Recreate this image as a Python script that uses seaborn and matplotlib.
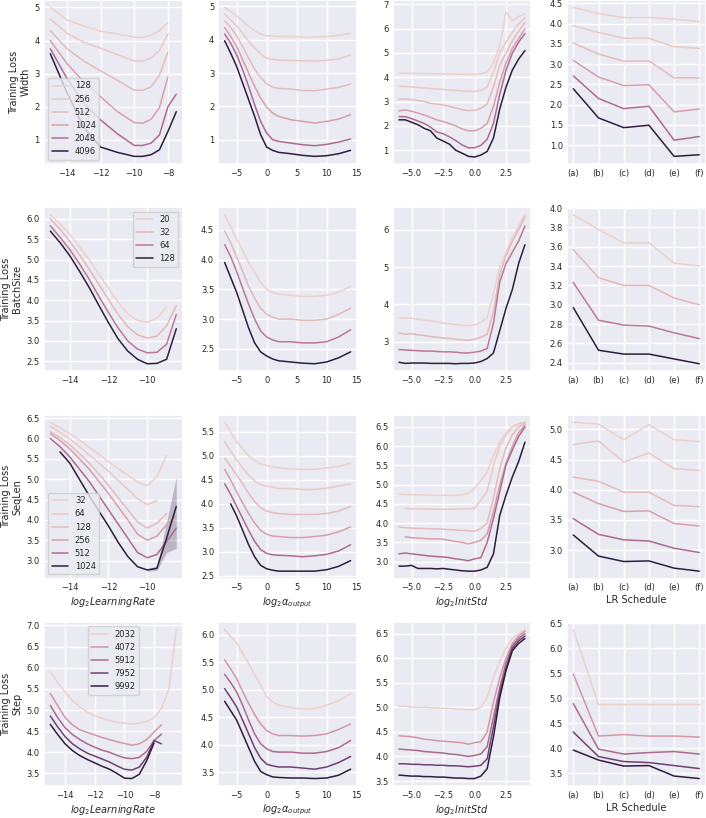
import numpy as np
import pandas as pd
import matplotlib
matplotlib.use("Agg")
import matplotlib.pyplot as plt
from matplotlib.ticker import MultipleLocator
import seaborn as sns

# -----------------------------
# x grids
# -----------------------------
lr_width = [-15, -14, -13, -12, -11, -10, -9.5, -9, -8.5, -8, -7.5]
lr_fine = [-15, -14.5, -14, -13.5, -13, -12.5, -12, -11.5, -11, -10.5, -10, -9.5, -9, -8.5]
lr_step = lr_fine + [-8, -7.5, -7, -6.5]
alpha_x = [-7, -6, -5, -4, -3, -2, -1, 0, 1, 2, 4, 6, 8, 10, 12, 14]
std_x = [-6, -5.5, -5, -4.5, -4, -3.5, -3, -2.5, -2, -1.5, -1, -0.5,
         0, 0.5, 1, 1.5, 2, 2.5, 3, 3.5, 4]
schedules = ["(a)", "(b)", "(c)", "(d)", "(e)", "(f)"]

# -----------------------------
# Width
# -----------------------------
width_lr = {
    128: [5.0, 4.62, 4.44, 4.28, 4.2, 4.1, 4.1, 4.16, 4.3, 4.54, None],
    256: [4.65, 4.22, 3.95, 3.77, 3.57, 3.38, 3.38, 3.47, 3.7, 4.2, None],
    512: [4.3, 3.75, 3.38, 3.08, 2.8, 2.5, 2.5, 2.6, 2.95, 3.65, None],
    1024: [4.0, 3.3, 2.75, 2.3, 1.85, 1.52, 1.5, 1.62, 1.98, 2.9, None],
    2048: [3.75, 2.85, 2.1, 1.6, 1.18, 0.83, 0.83, 0.9, 1.15, 2.0, 2.38],
    4096: [3.6, 2.42, 1.37, 0.78, 0.62, 0.5, 0.5, 0.55, 0.7, 1.25, 1.85],
}
width_alpha = {
    128: [4.97, 4.85, 4.72, 4.55, 4.4, 4.27, 4.17, 4.12, 4.11, 4.1, 4.1, 4.08, 4.08, 4.1, 4.13, 4.2],
    256: [4.77, 4.6, 4.42, 4.2, 3.95, 3.75, 3.58, 3.45, 3.41, 3.39, 3.38, 3.37, 3.36, 3.38, 3.42, 3.55],
    512: [4.57, 4.37, 4.12, 3.8, 3.45, 3.12, 2.87, 2.68, 2.58, 2.54, 2.52, 2.48, 2.47, 2.52, 2.57, 2.67],
    1024: [4.37, 4.1, 3.8, 3.4, 3.0, 2.6, 2.25, 1.98, 1.8, 1.7, 1.6, 1.55, 1.5, 1.55, 1.62, 1.75],
    2048: [4.17, 3.9, 3.55, 3.1, 2.6, 2.05, 1.55, 1.2, 1.0, 0.95, 0.9, 0.85, 0.82, 0.86, 0.93, 1.02],
    4096: [3.97, 3.6, 3.2, 2.7, 2.2, 1.7, 1.15, 0.78, 0.68, 0.62, 0.58, 0.53, 0.5, 0.52, 0.58, 0.68],
}
width_std = {
    128: [4.17, 4.17, 4.16, 4.16, 4.15, 4.15, 4.14, 4.14, 4.13, 4.13, 4.12, 4.12, 4.12, 4.15, 4.22, 4.6, 5.3, 6.68, 6.33, 6.5, 6.6],
    256: [3.63, 3.62, 3.6, 3.58, 3.56, 3.54, 3.52, 3.5, 3.48, 3.46, 3.44, 3.42, 3.42, 3.46, 3.6, 4.2, 5.0, 5.45, 5.85, 6.2, 6.45],
    512: [3.1, 3.1, 3.08, 3.04, 3.0, 2.93, 2.9, 2.86, 2.8, 2.74, 2.67, 2.63, 2.64, 2.72, 2.9, 3.6, 4.5, 5.0, 5.5, 5.9, 6.25],
    1024: [2.62, 2.66, 2.6, 2.53, 2.45, 2.35, 2.25, 2.18, 2.1, 2.0, 1.88, 1.8, 1.8, 1.9, 2.1, 2.8, 3.8, 4.6, 5.2, 5.6, 6.0],
    2048: [2.38, 2.38, 2.3, 2.2, 2.1, 1.95, 1.75, 1.68, 1.55, 1.4, 1.22, 1.1, 1.1, 1.2, 1.45, 2.1, 3.3, 4.3, 5.0, 5.45, 5.8],
    4096: [2.25, 2.25, 2.15, 2.05, 1.9, 1.8, 1.5, 1.38, 1.25, 1.0, 0.88, 0.75, 0.72, 0.8, 0.95, 1.5, 2.7, 3.6, 4.3, 4.75, 5.1],
}
width_sched = {
    128: [4.40, 4.25, 4.15, 4.15, 4.11, 4.05],
    256: [3.95, 3.78, 3.64, 3.64, 3.43, 3.39],
    512: [3.52, 3.25, 3.07, 3.08, 2.66, 2.66],
    1024: [3.09, 2.68, 2.47, 2.49, 1.82, 1.89],
    2048: [2.71, 2.15, 1.90, 1.96, 1.12, 1.21],
    4096: [2.39, 1.67, 1.43, 1.49, 0.72, 0.76],
}

# -----------------------------
# BatchSize
# -----------------------------
batch_lr = {
    20: [6.1, 5.88, 5.62, 5.32, 5.0, 4.65, 4.3, 3.95, 3.67, 3.5, 3.46, 3.56, 3.84, None],
    32: [6.0, 5.75, 5.45, 5.12, 4.77, 4.4, 4.02, 3.65, 3.35, 3.15, 3.07, 3.12, 3.37, 3.87],
    64: [5.83, 5.55, 5.25, 4.9, 4.52, 4.1, 3.7, 3.32, 3.0, 2.8, 2.71, 2.72, 2.92, 3.65],
    128: [5.7, 5.42, 5.1, 4.72, 4.32, 3.88, 3.45, 3.05, 2.75, 2.55, 2.44, 2.45, 2.55, 3.3],
}
batch_alpha = {
    20: [4.75, 4.55, 4.35, 4.15, 3.95, 3.78, 3.62, 3.5, 3.45, 3.42, 3.4, 3.38, 3.38, 3.4, 3.45, 3.55],
    32: [4.48, 4.28, 4.05, 3.8, 3.55, 3.35, 3.18, 3.08, 3.03, 3.0, 3.0, 2.98, 2.98, 3.0, 3.08, 3.18],
    64: [4.25, 4.05, 3.8, 3.52, 3.25, 3.0, 2.8, 2.7, 2.65, 2.62, 2.62, 2.6, 2.6, 2.62, 2.7, 2.82],
    128: [3.95, 3.7, 3.45, 3.15, 2.85, 2.6, 2.45, 2.38, 2.33, 2.3, 2.28, 2.26, 2.25, 2.28, 2.35, 2.45],
}
batch_std = {
    20: [3.64, 3.63, 3.63, 3.6, 3.58, 3.56, 3.53, 3.5, 3.48, 3.46, 3.44, 3.43, 3.45, 3.52, 3.64, 4.3, 5.0, 5.4, 5.8, 6.1, 6.4],
    32: [3.23, 3.2, 3.22, 3.18, 3.17, 3.14, 3.12, 3.1, 3.09, 3.07, 3.05, 3.04, 3.07, 3.12, 3.2, 3.8, 4.8, 5.3, 5.7, 6.0, 6.35],
    64: [2.79, 2.78, 2.77, 2.76, 2.75, 2.75, 2.74, 2.73, 2.73, 2.72, 2.7, 2.7, 2.72, 2.75, 2.82, 3.5, 4.6, 5.1, 5.4, 5.7, 6.1],
    128: [2.45, 2.42, 2.43, 2.43, 2.43, 2.42, 2.42, 2.42, 2.42, 2.41, 2.42, 2.42, 2.43, 2.47, 2.55, 2.7, 3.3, 3.9, 4.4, 5.1, 5.6],
}
batch_sched = {
    20: [3.93, 3.78, 3.64, 3.64, 3.43, 3.40],
    32: [3.57, 3.28, 3.20, 3.20, 3.07, 3.00],
    64: [3.23, 2.84, 2.79, 2.78, 2.71, 2.65],
    128: [2.97, 2.53, 2.49, 2.49, 2.44, 2.39],
}

# -----------------------------
# SeqLen
# -----------------------------
seq_lr = {
    32: [6.4, 6.26, 6.12, 5.96, 5.79, 5.62, 5.43, 5.26, 5.1, 4.93, 4.84, 5.06, 5.59, None],
    64: [6.3, 6.15, 5.99, 5.8, 5.6, 5.4, 5.2, 4.97, 4.75, 4.52, 4.38, 4.47, None, None],
    128: [6.17, 6.02, 5.85, 5.63, 5.4, 5.13, 4.85, 4.55, 4.25, 3.95, 3.8, 3.92, 4.16, None],
    256: [6.12, 5.95, 5.75, 5.5, 5.25, 4.95, 4.65, 4.32, 4.0, 3.65, 3.5, 3.6, 3.88, 4.1],
    512: [6.0, 5.8, 5.55, 5.25, 4.95, 4.6, 4.25, 3.9, 3.55, 3.2, 3.07, 3.15, 3.47, 3.8],
    1024: [None, 5.67, 5.4, 5.0, 4.6, 4.22, 3.85, 3.45, 3.1, 2.85, 2.77, 2.81, 3.55, 4.33],
}
seq_band_x = [-10, -9.5, -9, -8.5]
seq_band_lo = [2.74, 2.76, 3.2, 3.3]
seq_band_hi = [2.8, 2.86, 3.95, 5.06]
seq_alpha = {
    32: [5.7, 5.5, 5.3, 5.15, 5.0, 4.9, 4.83, 4.8, 4.77, 4.75, 4.73, 4.72, 4.72, 4.75, 4.78, 4.85],
    64: [5.3, 5.1, 4.92, 4.75, 4.6, 4.48, 4.4, 4.37, 4.35, 4.32, 4.32, 4.3, 4.3, 4.33, 4.37, 4.42],
    128: [4.95, 4.78, 4.6, 4.42, 4.22, 4.05, 3.92, 3.85, 3.82, 3.8, 3.78, 3.78, 3.78, 3.8, 3.85, 3.95],
    256: [4.72, 4.5, 4.25, 4.02, 3.8, 3.6, 3.45, 3.37, 3.33, 3.32, 3.3, 3.3, 3.32, 3.35, 3.42, 3.52],
    512: [4.42, 4.2, 3.95, 3.7, 3.45, 3.22, 3.05, 2.97, 2.94, 2.93, 2.92, 2.9, 2.92, 2.95, 3.02, 3.15],
    1024: [None, 4.0, 3.75, 3.45, 3.15, 2.9, 2.72, 2.65, 2.62, 2.6, 2.6, 2.6, 2.6, 2.63, 2.7, 2.82],
}
seq_std = {
    32: [4.75, 4.74, 4.74, 4.73, 4.73, 4.73, 4.72, 4.72, 4.72, 4.72, 4.74, 4.77, 4.9, 5.1, 5.33, 5.75, 6.1, 6.35, 6.5, 6.58, 6.62],
    64: [None, 4.38, 4.37, 4.37, 4.37, 4.36, 4.36, 4.36, 4.36, 4.36, 4.37, 4.37, 4.38, 4.6, 4.82, 5.5, 6.0, 6.3, 6.5, 6.58, 6.62],
    128: [3.9, 3.88, 3.87, 3.86, 3.86, 3.85, 3.85, 3.84, 3.83, 3.82, 3.81, 3.8, 3.79, 3.86, 4.0, 4.65, 5.43, 5.96, 6.3, 6.5, 6.6],
    256: [None, 3.64, 3.62, 3.61, 3.6, 3.59, 3.59, 3.58, 3.55, 3.52, 3.5, 3.46, 3.5, 3.55, 3.72, 4.3, 5.0, 5.56, 6.0, 6.35, 6.55],
    512: [3.2, 3.22, 3.2, 3.18, 3.16, 3.14, 3.13, 3.12, 3.1, 3.07, 3.05, 3.02, 3.07, 3.1, 3.5, 4.12, 4.82, 5.52, 5.9, 6.25, 6.5],
    1024: [2.88, 2.88, 2.9, 2.82, 2.82, 2.82, 2.81, 2.82, 2.8, 2.78, 2.76, 2.75, 2.75, 2.78, 2.85, 3.2, 4.2, 4.73, 5.2, 5.6, 6.1],
}
seq_sched = {
    32: [5.12, 5.09, 4.83, 5.08, 4.83, 4.80],
    64: [4.75, 4.81, 4.46, 4.61, 4.35, 4.32],
    128: [4.21, 4.14, 3.96, 3.96, 3.74, 3.72],
    256: [3.96, 3.77, 3.64, 3.65, 3.44, 3.40],
    512: [3.52, 3.26, 3.17, 3.15, 3.03, 2.96],
    1024: [3.25, 2.90, 2.81, 2.82, 2.70, 2.65],
}

# -----------------------------
# Step
# -----------------------------
step_lr = {
    2032: [5.91, 5.65, 5.42, 5.22, 5.07, 4.95, 4.86, 4.8, 4.75, 4.71, 4.69, 4.67, 4.69, 4.73, 4.82, 5.04, 5.5, 6.9],
    4072: [5.39, 5.1, 4.82, 4.65, 4.53, 4.47, 4.41, 4.35, 4.3, 4.25, 4.21, 4.17, 4.2, 4.3, 4.48, 4.65, None, None],
    5912: [5.11, 4.82, 4.58, 4.42, 4.3, 4.2, 4.12, 4.05, 4.0, 3.93, 3.87, 3.85, 3.88, 4.02, 4.28, 4.43, None, None],
    7952: [4.86, 4.6, 4.37, 4.2, 4.08, 3.98, 3.91, 3.84, 3.77, 3.68, 3.6, 3.58, 3.65, 3.88, 4.28, 4.2, None, None],
    9992: [4.66, 4.42, 4.2, 4.04, 3.92, 3.83, 3.75, 3.67, 3.6, 3.5, 3.39, 3.38, 3.48, 3.8, 4.22, None, None, None],
}
step_alpha = {
    2032: [6.09, 5.97, 5.85, 5.66, 5.48, 5.27, 5.09, 4.88, 4.78, 4.72, 4.68, 4.65, 4.66, 4.72, 4.8, 4.93],
    4072: [5.54, 5.38, 5.2, 4.97, 4.75, 4.55, 4.38, 4.26, 4.2, 4.17, 4.17, 4.16, 4.17, 4.2, 4.28, 4.38],
    5912: [5.28, 5.13, 4.96, 4.72, 4.45, 4.2, 4.02, 3.93, 3.88, 3.87, 3.87, 3.85, 3.85, 3.88, 3.95, 4.08],
    7952: [5.02, 4.86, 4.69, 4.45, 4.2, 3.95, 3.76, 3.65, 3.62, 3.6, 3.6, 3.58, 3.56, 3.6, 3.68, 3.79],
    9992: [4.79, 4.62, 4.45, 4.2, 3.95, 3.7, 3.52, 3.46, 3.42, 3.41, 3.4, 3.4, 3.39, 3.4, 3.45, 3.56],
}
step_std = {
    2032: [5.02, 5.02, 5.0, 5.0, 5.0, 4.99, 4.99, 4.98, 4.98, 4.97, 4.96, 4.95, 4.95, 5.0, 5.2, 5.6, 5.95, 6.2, 6.4, 6.5, 6.58],
    4072: [4.42, 4.41, 4.4, 4.38, 4.35, 4.34, 4.32, 4.31, 4.3, 4.29, 4.28, 4.25, 4.28, 4.3, 4.5, 5.1, 5.6, 6.0, 6.3, 6.45, 6.55],
    5912: [4.15, 4.14, 4.13, 4.12, 4.1, 4.09, 4.08, 4.07, 4.05, 4.04, 4.02, 4.0, 4.02, 4.05, 4.2, 4.8, 5.4, 5.9, 6.25, 6.4, 6.5],
    7952: [3.85, 3.85, 3.84, 3.84, 3.83, 3.83, 3.82, 3.82, 3.81, 3.81, 3.8, 3.79, 3.8, 3.82, 3.95, 4.6, 5.3, 5.8, 6.2, 6.35, 6.45],
    9992: [3.62, 3.61, 3.6, 3.6, 3.59, 3.59, 3.58, 3.58, 3.57, 3.56, 3.56, 3.55, 3.55, 3.6, 3.75, 4.4, 5.2, 5.75, 6.15, 6.3, 6.4],
}
step_sched = {
    2032: [6.37, 4.87, 4.87, 4.87, 4.87, 4.87],
    4072: [5.48, 4.24, 4.27, 4.24, 4.24, 4.22],
    5912: [4.89, 3.98, 3.88, 3.91, 3.93, 3.88],
    7952: [4.32, 3.83, 3.73, 3.71, 3.65, 3.59],
    9992: [3.96, 3.76, 3.64, 3.65, 3.44, 3.39],
}

# -----------------------------
# Layout of the grid
# -----------------------------
row_names = ["Width", "BatchSize", "SeqLen", "Step"]
row_data = [
    [(lr_width, width_lr), (alpha_x, width_alpha), (std_x, width_std), (schedules, width_sched)],
    [(lr_fine, batch_lr), (alpha_x, batch_alpha), (std_x, batch_std), (schedules, batch_sched)],
    [(lr_fine, seq_lr), (alpha_x, seq_alpha), (std_x, seq_std), (schedules, seq_sched)],
    [(lr_step, step_lr), (alpha_x, step_alpha), (std_x, step_std), (schedules, step_sched)],
]
legend_loc = ["lower left", "upper right", "lower left", "upper center"]
col_xlabels = [r"$log_2LearningRate$", r"$log_2\alpha_{output}$", r"$log_2InitStd$", "LR Schedule"]
x_steps = [2, 5, 2.5, None]
y_steps = [[1, 1, 1, 0.5], [0.5, 0.5, 1, 0.2], [0.5, 0.5, 0.5, 0.5], [0.5, 0.5, 0.5, 0.5]]


def to_long(xs, series):
    rows = []
    for h, ys in series.items():
        for x, y in zip(xs, ys):
            if y is not None:
                rows.append((x, y, h))
    return pd.DataFrame(rows, columns=["x", "loss", "hue"])


sns.set_theme(style="darkgrid")
plt.rcParams.update({
    "xtick.labelsize": 6,
    "ytick.labelsize": 6,
    "axes.labelsize": 7,
    "legend.fontsize": 6,
    "xtick.major.size": 0,
    "ytick.major.size": 0,
    "xtick.major.pad": 3.5,
    "ytick.major.pad": 3,
    "axes.labelpad": 2,
})

fig, axes = plt.subplots(4, 4, figsize=(7.06, 8.18), dpi=100)
fig.subplots_adjust(left=44 / 706, right=705.6 / 706, top=1.0, bottom=1 - 786 / 818,
                    wspace=0.258, hspace=0.266)

cmap = sns.color_palette("ch:", as_cmap=True)

for r in range(4):
    for c in range(4):
        ax = axes[r, c]
        xs, series = row_data[r][c]
        df = to_long(xs, series)
        sns.lineplot(data=df, x="x", y="loss", hue="hue", errorbar=None,
                     linewidth=1.1, legend="full" if c == 0 else False, ax=ax)

        if r == 2 and c == 0:
            keys = list(series.keys())
            frac = (1024 - min(keys)) / (max(keys) - min(keys))
            ax.fill_between(seq_band_x, seq_band_lo, seq_band_hi, color=cmap(frac), alpha=0.25, lw=0)

        if c == 0:
            h, l = ax.get_legend_handles_labels()
            ax.legend(h, l, loc=legend_loc[r])
            ax.set_ylabel("Training Loss\n" + row_names[r], labelpad=3)
        else:
            ax.set_ylabel("")

        ax.set_xlabel(col_xlabels[c] if r >= 2 else "")
        if x_steps[c] is not None:
            ax.xaxis.set_major_locator(MultipleLocator(x_steps[c]))
        ax.yaxis.set_major_locator(MultipleLocator(y_steps[r][c]))

# the InitStd panel of the first row leaves a little room above its top tick
axes[0, 2].set_ylim(0.44, 7.18)

fig.savefig("out.png", dpi=100)
